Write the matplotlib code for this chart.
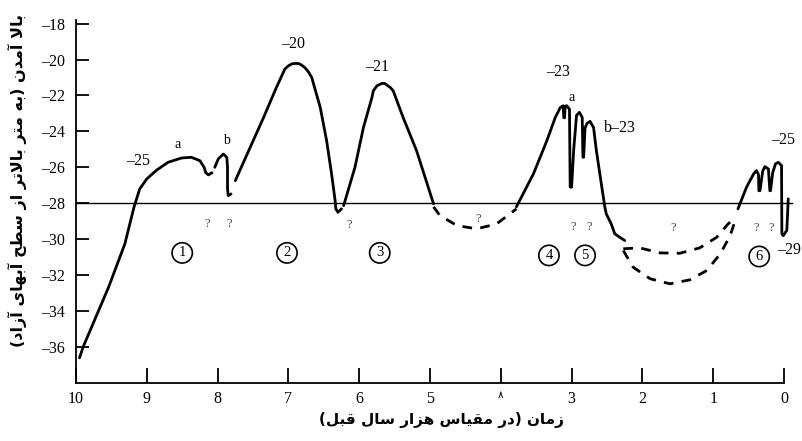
import matplotlib
matplotlib.use("Agg")
import matplotlib.pyplot as plt

# --- data (x = thousand years ago, y = metres) ---
rise_x = [9.95, 9.90, 9.54, 9.31, 9.18, 9.10, 9.00, 8.86, 8.70, 8.51, 8.37, 8.25, 8.19, 8.17, 8.13, 8.08]
rise_y = [-36.6, -36.0, -32.67, -30.26, -28.2, -27.2, -26.64, -26.15, -25.72, -25.48, -25.44, -25.63, -26.0, -26.28, -26.42, -26.3]

b_x = [8.04, 7.99, 7.92, 7.87, 7.86, 7.86, 7.85, 7.81]
b_y = [-26.0, -25.53, -25.26, -25.44, -26.0, -27.2, -27.57, -27.48]

hump2_x = [7.75, 7.54, 7.35, 7.17, 7.05, 7.00, 6.95, 6.91, 6.86, 6.82, 6.77, 6.72, 6.67, 6.63, 6.55, 6.46, 6.39, 6.34, 6.33, 6.30, 6.25]
hump2_y = [-26.74, -24.89, -23.22, -21.56, -20.53, -20.35, -20.24, -20.22, -20.22, -20.29, -20.44, -20.67, -21.0, -21.56, -22.67, -24.52, -26.37, -27.85, -28.31, -28.5, -28.31]

hump3_x = [6.22, 6.06, 5.94, 5.82, 5.80, 5.75, 5.68, 5.64, 5.56, 5.52, 5.38, 5.19, 4.95]
hump3_y = [-28.13, -26.0, -23.78, -22.11, -21.74, -21.46, -21.33, -21.33, -21.56, -21.74, -23.22, -25.07, -28.03]

gap1_x = [4.95, 4.86, 4.62, 4.34, 4.06, 3.78]
gap1_y = [-28.2, -28.68, -29.24, -29.42, -29.15, -28.31]

hump45_x = [3.78, 3.54, 3.35, 3.23, 3.16, 3.12, 3.11, 3.10, 3.09, 3.07, 3.03, 3.02, 3.00, 2.97, 2.93, 2.89,
            2.85, 2.84, 2.83, 2.81, 2.78, 2.74, 2.69, 2.65, 2.58, 2.53, 2.51, 2.44, 2.39, 2.32, 2.25]
hump45_y = [-28.2, -26.37, -24.52, -23.22, -22.67, -22.57, -23.24, -23.24, -22.6, -22.57, -22.76, -27.1, -27.1, -25.0, -23.1, -22.94,
            -23.22, -25.44, -25.44, -23.8, -23.55, -23.44, -23.78, -25.07, -26.92, -28.22, -28.59, -29.15, -29.7, -29.89, -30.07]

gap2a_x = [2.27, 2.04, 1.75, 1.47, 1.19, 0.95, 0.79, 0.68]
gap2a_y = [-30.53, -30.48, -30.76, -30.78, -30.48, -29.89, -29.15, -28.78]

gap2b_x = [2.27, 2.13, 1.89, 1.61, 1.33, 1.09, 0.90, 0.76, 0.69]
gap2b_y = [-30.63, -31.56, -32.2, -32.48, -32.26, -31.74, -30.81, -29.8, -28.96]

hump6_x = [0.65, 0.53, 0.43, 0.39, 0.36, 0.355, 0.34, 0.30, 0.27, 0.22, 0.20, 0.19, 0.16, 0.12, 0.08, 0.035,
           0.03, 0.01, -0.04, -0.06]
hump6_y = [-28.31, -27.11, -26.37, -26.18, -26.4, -27.3, -27.3, -26.2, -25.96, -26.09, -27.3, -27.3, -26.3, -25.8, -25.72, -25.9,
           -29.7, -29.8, -29.5, -27.75]

sea_level = -28

peak_labels = ["–25", "a", "b", "–20", "–21", "–23", "a", "b–23", "–25"]
peak_x = [9.12, 8.56, 7.87, 6.93, 5.75, 3.19, 3.0, 2.32, 0.01]
peak_y = [-25.63, -24.74, -24.48, -19.15, -20.44, -20.72, -22.11, -23.8, -24.5]

q_x = [8.15, 7.84, 6.14, 4.32, 2.98, 2.75, 1.57, 0.40, 0.18]
q_y = [-29.13, -29.13, -29.2, -28.85, -29.3, -29.3, -29.4, -29.4, -29.4]

stage_labels = ["1", "2", "3", "4", "5", "6"]
stage_x = [8.50, 7.02, 5.71, 3.32, 2.81, 0.35]
stage_y = [-30.76, -30.76, -30.76, -30.9, -30.9, -30.96]

x_ticks = list(range(0, 11))
x_tick_labels = ["0", "1", "2", "3", "\u0668", "5", "6", "7", "8", "9", "10"]
y_ticks = list(range(-36, -17, 2))

xlabel_fa = "زمان (در مقیاس هزار سال قبل)"
ylabel_fa = "بالا آمدن (به متر بالاتر از سطح آبهای آزاد)"


# matplotlib has no Arabic shaping, so pick presentation forms by hand
FORMS = {
    'ا': ('\uFE8D', '\uFE8E', None, None),
    'آ': ('\uFE81', '\uFE82', None, None),
    'ب': ('\uFE8F', '\uFE90', '\uFE91', '\uFE92'),
    'ت': ('\uFE95', '\uFE96', '\uFE97', '\uFE98'),
    'ح': ('\uFEA1', '\uFEA2', '\uFEA3', '\uFEA4'),
    'د': ('\uFEA9', '\uFEAA', None, None),
    'ر': ('\uFEAD', '\uFEAE', None, None),
    'ز': ('\uFEAF', '\uFEB0', None, None),
    'س': ('\uFEB1', '\uFEB2', '\uFEB3', '\uFEB4'),
    'ط': ('\uFEC1', '\uFEC2', '\uFEC3', '\uFEC4'),
    'ق': ('\uFED5', '\uFED6', '\uFED7', '\uFED8'),
    'ل': ('\uFEDD', '\uFEDE', '\uFEDF', '\uFEE0'),
    'م': ('\uFEE1', '\uFEE2', '\uFEE3', '\uFEE4'),
    'ن': ('\uFEE5', '\uFEE6', '\uFEE7', '\uFEE8'),
    'ه': ('\uFEE9', '\uFEEA', '\uFEEB', '\uFEEC'),
    'ی': ('\uFEEF', '\uFEF0', '\uFEF3', '\uFEF4'),
}
LAM_ALEF = {'ا': ('\uFEFB', '\uFEFC'), 'آ': ('\uFEF5', '\uFEF6')}


def dual(c):
    return c in FORMS and FORMS[c][2] is not None


def shape_fa(s):
    out = []
    i = 0
    prev = None
    while i < len(s):
        c = s[i]
        nxt = s[i + 1] if i + 1 < len(s) else ''
        if c == 'ل' and nxt in LAM_ALEF:
            iso, fin = LAM_ALEF[nxt]
            out.append(fin if dual(prev) else iso)
            prev = nxt
            i += 2
            continue
        if c in FORMS:
            p = dual(prev)
            n = dual(c) and nxt in FORMS
            iso, fin, ini, med = FORMS[c]
            if p and n:
                out.append(med)
            elif p:
                out.append(fin)
            elif n:
                out.append(ini)
            else:
                out.append(iso)
            prev = c
        else:
            out.append(c)
            prev = None
        i += 1
    vis = ''.join(reversed(out))
    return vis.translate(str.maketrans('()', ')('))


fig = plt.figure(figsize=(8.02, 4.41), dpi=100)
ax = fig.add_axes([76 / 802, 58 / 441, 725.7 / 802, 363 / 441])

curve = dict(color="black", lw=2.0, solid_capstyle="round", solid_joinstyle="round")
dashed = dict(color="black", lw=2.0, linestyle=(0, (3.5, 3.0)))

ax.axhline(sea_level, color="black", lw=1.0, xmin=0, xmax=(10 + 0.11) / 10.25)
for xs, ys in [(rise_x, rise_y), (b_x, b_y), (hump2_x, hump2_y), (hump3_x, hump3_y),
               (hump45_x, hump45_y), (hump6_x, hump6_y)]:
    ax.plot(xs, ys, **curve)
for xs, ys in [(gap1_x, gap1_y), (gap2a_x, gap2a_y), (gap2b_x, gap2b_y)]:
    ax.plot(xs, ys, **dashed)

serif = ["Liberation Serif", "DejaVu Sans"]
for t, x, y in zip(peak_labels, peak_x, peak_y):
    size = 10 if t in ("a", "b") else 11.5
    ax.text(x, y, t, ha="center", va="center", fontsize=size, family=serif, clip_on=False)
ax.text(0.10, -30.6, "–29", ha="left", va="center", fontsize=11.5, family=serif, clip_on=False)

for x, y in zip(q_x, q_y):
    ax.text(x, y, "?", ha="center", va="center", fontsize=9, family=serif, color="#444444")

for t, x, y in zip(stage_labels, stage_x, stage_y):
    ax.text(x, y, t, ha="center", va="center", fontsize=10.5, family=serif,
            bbox=dict(boxstyle="circle,pad=0.25", fc="none", ec="black", lw=1.2))

ax.set_xlim(10, -0.25)
ax.set_ylim(-38, -17.8)
for side in ("top", "right"):
    ax.spines[side].set_visible(False)
ax.spines["bottom"].set_bounds(10, 0)
ax.spines["left"].set_linewidth(1.3)
ax.spines["bottom"].set_linewidth(1.3)

ax.set_xticks(x_ticks)
ax.set_xticklabels(x_tick_labels, family=serif, fontsize=11.5)
ax.get_xticklabels()[4].set_fontsize(7.5)
ax.set_yticks(y_ticks)
ax.set_yticklabels([f"–{abs(v)}" for v in y_ticks], family=serif, fontsize=11.5)
ax.tick_params(axis="x", direction="in", length=11, width=1.3, pad=6)
ax.tick_params(axis="y", direction="in", length=9, width=1.3, pad=8)

fig.text(0.55, 0.047, shape_fa(xlabel_fa), ha="center", va="center",
         fontsize=11, fontweight="bold", family="DejaVu Sans")
fig.text(0.022, 0.59, shape_fa(ylabel_fa), ha="center", va="center", rotation=90,
         fontsize=11.5, fontweight="bold", family="DejaVu Sans")

fig.savefig("out.png", dpi=100)
